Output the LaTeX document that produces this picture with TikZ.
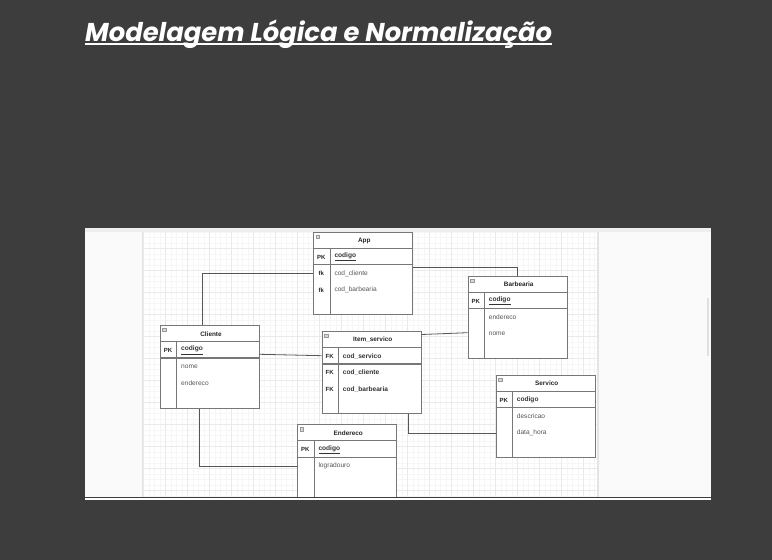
\documentclass[tikz,border=0pt]{standalone}
\usepackage{fontspec}
\setmainfont{Liberation Sans}
\newfontfamily\titlefont{Poppins}
\definecolor{bgdark}{HTML}{3D3D3D}
\definecolor{panel}{HTML}{FAFAFA}
\definecolor{topbar}{HTML}{EEEEEE}
\definecolor{border}{HTML}{E4E4E4}
\definecolor{gridmaj}{HTML}{EAEAEA}
\definecolor{gridmin}{HTML}{F6F6F6}
\definecolor{tabgray}{HTML}{777777}
\definecolor{conngray}{HTML}{555555}
\definecolor{fldgray}{HTML}{555555}
\begin{document}
\begin{tikzpicture}[x=1pt,y=-1pt,
    tab/.style={draw=tabgray,line width=.9pt,fill=white,minimum width=99pt,anchor=north west,inner sep=0},
    tabline/.style={draw=tabgray,line width=.9pt},
    ttl/.style={font=\fontsize{6.4}{7}\selectfont\bfseries,text=black!85,inner sep=0},
    key/.style={font=\fontsize{6}{7}\selectfont\bfseries,text=black!85,inner sep=0},
    fld/.style={font=\fontsize{6.6}{7}\selectfont,text=fldgray,anchor=west,inner sep=0},
    pkf/.style={fld,font=\fontsize{6.6}{7}\selectfont\bfseries,text=black!80},
    itf/.style={fld,font=\fontsize{6.6}{7}\selectfont\bfseries,text=black!80},
    conn/.style={draw=conngray,line width=.8pt}]
\useasboundingbox (0,0) rectangle (772,560);
\fill[bgdark] (0,0) rectangle (772,560);

% title
\node[anchor=base west,inner sep=0,text=white,font=\titlefont\bfseries\itshape\fontsize{25.8}{30}\selectfont] at (85,41.7)(title){Modelagem Lógica e Normalização};
\draw[white,line width=1.3pt] ([yshift=-2.3pt]title.base west) -- ([yshift=-2.3pt]title.base east);

% screenshot frame
\fill[white] (85,228) rectangle (711,500);
\fill[topbar] (85,228) rectangle (711,232);
\fill[panel] (85,232) rectangle (142,497);
\fill[panel] (599,232) rectangle (711,497);
\draw[border] (142.5,232) -- (142.5,497);
\draw[border,line width=1.5pt] (598,232) -- (598,497);
\draw[black!12,line width=2pt] (708,298) -- (708,356);

\begin{scope}
\clip (143,232) rectangle (597,497);
\foreach \x in {143.7,149.2,...,597}{
    \draw[gridmin,line width=.5pt] (\x,232) -- (\x,497);
}
\foreach \y in {231.8,237.3,...,497}{
    \draw[gridmin,line width=.5pt] (143,\y) -- (597,\y);
}
\foreach \x in {143.7,165.7,...,597}{
    \draw[gridmaj,line width=.6pt] (\x,232) -- (\x,497);
}
\foreach \y in {248.3,270.3,...,497}{
    \draw[gridmaj,line width=.6pt] (143,\y) -- (597,\y);
}
\end{scope}

\begin{scope}
\clip (85,228) rectangle (711,497);
\foreach \n/\x/\y/\h/\t in {app/313.3/231.7/82.6/App, cli/160/325/82.7/Cliente, item/321.7/331/82/Item\_servico, bar/467.7/275.7/82.6/Barbearia, serv/495.7/374.7/82.6/Servico, end/297.3/424.3/100/Endereco}{
    \node[tab,minimum height=\h] at (\x,\y)(\n){};
    \draw[tabline] (\x,\y+16.5) -- (\x+99,\y+16.5);
    \draw[tabline,line width=1.3pt] (\x,\y+33) -- (\x+99,\y+33);
    \draw[tabline] (\x+16.7,\y+16.5) -- (\x+16.7,\y+\h);
    \draw[black!40,fill=black!15,line width=.4pt] (\x+2.5,\y+3) rectangle (\x+6,\y+6.5);
    \node[ttl] at (\x+51,\y+8.8)(\n t){\t};
}
\foreach \n/\r/\k/\f/\s in {
app/1/PK/\underline{codigo}/pkf, app/2/fk/cod\_cliente/fld, app/3/fk/cod\_barbearia/fld,
cli/1/PK/\underline{codigo}/pkf, cli/2//nome/fld, cli/3//endereco/fld,
item/1/FK/cod\_servico/itf, item/2/FK/cod\_cliente/itf, item/3/FK/cod\_barbearia/itf,
bar/1/PK/\underline{codigo}/pkf, bar/2//endereco/fld, bar/3//nome/fld,
serv/1/PK/codigo/pkf, serv/2//descricao/fld, serv/3//data\_hora/fld,
end/1/PK/\underline{codigo}/pkf, end/2//logradouro/fld}{
    \path (\n.north west) ++(8,8.8+16.5*\r) node[key](\n k\r){\k} ++(13,0) node[\s](\n f\r){\f};
}

% relations
\draw[conn] ([xshift=-7.8pt]cli.north) |- (appk2 -| app.west);
\draw[conn] ([yshift=-36pt]app.north east) -| (bar.north);
\draw[conn] ([yshift=-29.3pt]cli.north east) -- ([yshift=-24.7pt]item.north west);
\draw[conn] ([yshift=-3.5pt]item.north east) -- ([yshift=-57pt]bar.north west);
\draw[conn] ([xshift=36.5pt]item.south) |- (servk3 -| serv.west);
\draw[conn] ([xshift=-10.2pt]cli.south) |- (endk2 -| end.west);
\end{scope}

\fill[bgdark] (85,496.8) rectangle (711,498.2);
\end{tikzpicture}
\end{document}
